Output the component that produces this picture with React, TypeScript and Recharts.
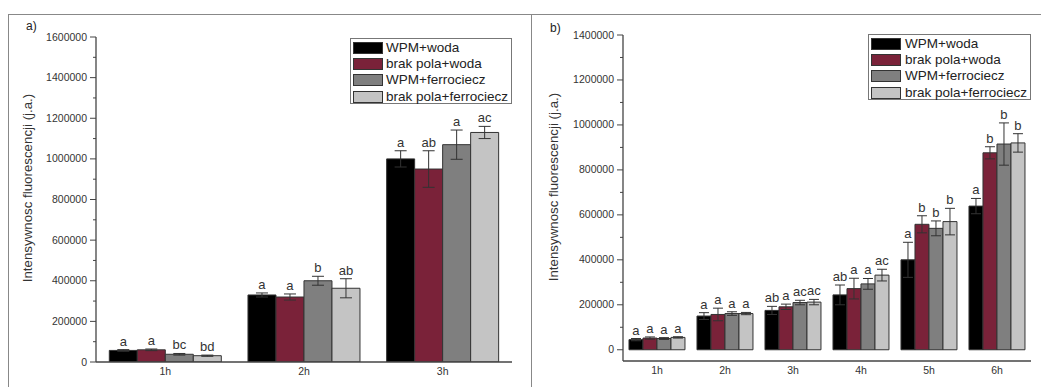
import React from "react";
import { BarChart, Bar, XAxis, YAxis, ErrorBar, LabelList } from "recharts";

const FONT = '"Liberation Sans", Arial, sans-serif';

const SERIES = ["WPM+woda", "brak pola+woda", "WPM+ferrociecz", "brak pola+ferrociecz"];
const COLORS = ["#000000", "#7a2239", "#7f7f7f", "#c4c4c4"];

// panel a)
const hoursA = ["1h", "2h", "3h"];
const aWpmWoda = [57000, 330000, 1000000];
const aBrakWoda = [60000, 320000, 950000];
const aWpmFerro = [38000, 400000, 1070000];
const aBrakFerro = [31000, 363000, 1130000];
const aWpmWodaErr = [4000, 10000, 40000];
const aBrakWodaErr = [4000, 15000, 90000];
const aWpmFerroErr = [4000, 22000, 72000];
const aBrakFerroErr = [3000, 47000, 30000];
const aWpmWodaLet = ["a", "a", "a"];
const aBrakWodaLet = ["a", "a", "ab"];
const aWpmFerroLet = ["bc", "b", "a"];
const aBrakFerroLet = ["bd", "ab", "ac"];
const yTicksA = [
  0, 100000, 200000, 300000, 400000, 500000, 600000, 700000, 800000,
  900000, 1000000, 1100000, 1200000, 1300000, 1400000, 1500000, 1600000,
];

// panel b)
const hoursB = ["1h", "2h", "3h", "4h", "5h", "6h"];
const bWpmWoda = [45000, 150000, 175000, 244000, 400000, 639000];
const bBrakWoda = [52000, 157000, 191000, 272000, 558000, 876000];
const bWpmFerro = [50000, 161000, 210000, 293000, 540000, 915000];
const bBrakFerro = [55000, 161000, 212000, 332000, 570000, 920000];
const bWpmWodaErr = [5000, 15000, 18000, 44000, 78000, 34000];
const bBrakWodaErr = [5000, 28000, 12000, 46000, 38000, 27000];
const bWpmFerroErr = [4000, 8000, 10000, 24000, 33000, 94000];
const bBrakFerroErr = [3000, 5000, 12000, 26000, 59000, 41000];
const bWpmWodaLet = ["a", "a", "ab", "ab", "a", "a"];
const bBrakWodaLet = ["a", "a", "a", "a", "b", "b"];
const bWpmFerroLet = ["a", "a", "ac", "a", "b", "b"];
const bBrakFerroLet = ["a", "a", "ac", "ac", "b", "b"];
const yTicksB = [
  0, 100000, 200000, 300000, 400000, 500000, 600000, 700000,
  800000, 900000, 1000000, 1100000, 1200000, 1300000, 1400000,
];

type Row = Record<string, string | number>;

function buildRows(hours: string[], vals: number[][], errs: number[][], lets: string[][]): Row[] {
  return hours.map((h, i) => {
    const row: Row = { hour: h };
    vals.forEach((v, s) => {
      row["v" + s] = v[i];
      row["e" + s] = errs[s][i];
      row["l" + s] = lets[s][i];
    });
    return row;
  });
}

const dataA = buildRows(
  hoursA,
  [aWpmWoda, aBrakWoda, aWpmFerro, aBrakFerro],
  [aWpmWodaErr, aBrakWodaErr, aWpmFerroErr, aBrakFerroErr],
  [aWpmWodaLet, aBrakWodaLet, aWpmFerroLet, aBrakFerroLet]
);
const dataB = buildRows(
  hoursB,
  [bWpmWoda, bBrakWoda, bWpmFerro, bBrakFerro],
  [bWpmWodaErr, bBrakWodaErr, bWpmFerroErr, bBrakFerroErr],
  [bWpmWodaLet, bBrakWodaLet, bWpmFerroLet, bBrakFerroLet]
);

const AXIS = "#444";

function YTick(props: any) {
  const { x, y, payload } = props;
  const major = payload.value % 200000 === 0;
  return (
    <g>
      <line x1={x} x2={x - (major ? 6 : 3)} y1={y} y2={y} stroke={AXIS} strokeWidth={1} />
      {major && (
        <text x={x - 9} y={y} dy={3.5} textAnchor="end" fontSize={10.5} fill="#333" fontFamily={FONT}>
          {payload.value}
        </text>
      )}
    </g>
  );
}

function letterContent(data: Row[], s: number) {
  return (props: any) => {
    const vb = props.viewBox || props;
    const x = vb.x ?? props.x;
    const y = vb.y ?? props.y;
    const w = vb.width ?? props.width;
    const h = Math.abs(vb.height ?? props.height);
    const row = data[props.index];
    if (!row) return null;
    const v = row["v" + s] as number;
    const e = row["e" + s] as number;
    const top = Math.min(y, y + (vb.height ?? 0)) - (e * h) / v;
    return (
      <text x={x + w / 2} y={top - 4} textAnchor="middle" fontSize={13} fill="#333" fontFamily={FONT}>
        {row["l" + s]}
      </text>
    );
  };
}

interface PanelProps {
  data: Row[];
  width: number;
  domain: [number, number];
  ticks: number[];
  margin: { top: number; right: number; left: number; bottom: number };
  yWidth: number;
  xHeight: number;
  gap: string;
  cap: number;
}

function Panel({ data, width, domain, ticks, margin, yWidth, xHeight, gap, cap }: PanelProps) {
  return (
    <BarChart width={width} height={373} data={data} margin={margin} barCategoryGap={gap} barGap={0}>
      <XAxis
        dataKey="hour"
        tickLine={false}
        tickSize={0}
        tickMargin={6}
        height={xHeight}
        axisLine={{ stroke: AXIS, strokeWidth: 1.3 }}
        tick={{ fontSize: 10.5, fill: "#333", fontFamily: FONT }}
        interval={0}
      />
      <XAxis
        xAxisId="top"
        orientation="top"
        dataKey="hour"
        tick={false}
        tickLine={false}
        height={0}
        axisLine={{ stroke: AXIS, strokeWidth: 1.3 }}
      />
      <YAxis
        type="number"
        domain={domain}
        ticks={ticks}
        allowDataOverflow
        width={yWidth}
        tickLine={false}
        tickSize={0}
        tickMargin={0}
        interval={0}
        axisLine={{ stroke: AXIS, strokeWidth: 1.3 }}
        tick={<YTick />}
      />
      <YAxis
        yAxisId="r"
        orientation="right"
        type="number"
        domain={domain}
        allowDataOverflow
        width={0}
        tick={false}
        tickLine={false}
        axisLine={{ stroke: AXIS, strokeWidth: 1.3 }}
      />
      {SERIES.map((name, s) => (
        <Bar
          key={name}
          dataKey={"v" + s}
          name={name}
          fill={COLORS[s]}
          stroke="#333"
          strokeWidth={1}
          isAnimationActive={false}
        >
          <ErrorBar dataKey={"e" + s} width={cap} stroke="#333" strokeWidth={1} direction="y" />
          <LabelList dataKey={"l" + s} content={letterContent(data, s)} />
        </Bar>
      ))}
    </BarChart>
  );
}

function LegendBox({ left, top, width, textLeft }: { left: number; top: number; width: number; textLeft: number }) {
  return (
    <div
      style={{
        position: "absolute",
        left,
        top,
        width,
        height: 66,
        boxSizing: "border-box",
        border: "1px solid #777",
        background: "#fff",
        fontFamily: FONT,
        fontSize: 13.5,
        color: "#222",
      }}
    >
      {SERIES.map((name, s) => (
        <div key={name} style={{ position: "absolute", left: 0, top: 1 + s * 16.2, height: 16, width: "100%" }}>
          <div
            style={{
              position: "absolute",
              left: 2,
              top: 2,
              width: 30,
              height: 12,
              boxSizing: "border-box",
              background: COLORS[s],
              border: "1px solid #333",
            }}
          />
          <div style={{ position: "absolute", left: textLeft, top: 0, lineHeight: "16px", whiteSpace: "nowrap" }}>
            {name}
          </div>
        </div>
      ))}
    </div>
  );
}

const Y_TITLE = "Intensywnosc fluorescencji (j.a.)";

export default function App() {
  return (
    <div
      style={{
        position: "absolute",
        left: 0,
        top: 0,
        width: 1041,
        height: 387,
        overflow: "hidden",
        background: "#fff",
        fontFamily: FONT,
      }}
    >
      {/* panel frames */}
      <div style={{ position: "absolute", left: 8, top: 14, width: 1033, height: 1, background: "#888" }} />
      <div style={{ position: "absolute", left: 8, top: 14, width: 1, height: 373, background: "#888" }} />
      <div style={{ position: "absolute", left: 531, top: 14, width: 1, height: 373, background: "#888" }} />

      <div style={{ position: "absolute", left: 8, top: 14 }}>
        <Panel
          data={dataA}
          width={523}
          domain={[0, 1600000]}
          ticks={yTicksA}
          margin={{ top: 23, right: 19, left: 0, bottom: 0 }}
          yWidth={88}
          xHeight={25}
          gap="9.6%"
          cap={6}
        />
      </div>
      <div style={{ position: "absolute", left: 531, top: 14 }}>
        <Panel
          data={dataB}
          width={510}
          domain={[-50000, 1400000]}
          ticks={yTicksB}
          margin={{ top: 21, right: 10, left: 0, bottom: 0 }}
          yWidth={92}
          xHeight={26}
          gap="8.8%"
          cap={5}
        />
      </div>

      <svg width={1041} height={387} style={{ position: "absolute", left: 0, top: 0, pointerEvents: "none" }}>
        <text x={26} y={30} fontSize={12} fill="#222" fontFamily={FONT}>a)</text>
        <text x={550} y={32} fontSize={12} fill="#222" fontFamily={FONT}>b)</text>
        <text
          x={27}
          y={188}
          transform="rotate(-90 27 188)"
          textAnchor="middle"
          dominantBaseline="central"
          fontSize={13.3}
          fill="#333"
          fontFamily={FONT}
        >
          {Y_TITLE}
        </text>
        <text
          x={553}
          y={187}
          transform="rotate(-90 553 187)"
          textAnchor="middle"
          dominantBaseline="central"
          fontSize={13.3}
          fill="#333"
          fontFamily={FONT}
        >
          {Y_TITLE}
        </text>
      </svg>

      <LegendBox left={350} top={38} width={162} textLeft={35} />
      <LegendBox left={868} top={34} width={163} textLeft={36} />
    </div>
  );
}
